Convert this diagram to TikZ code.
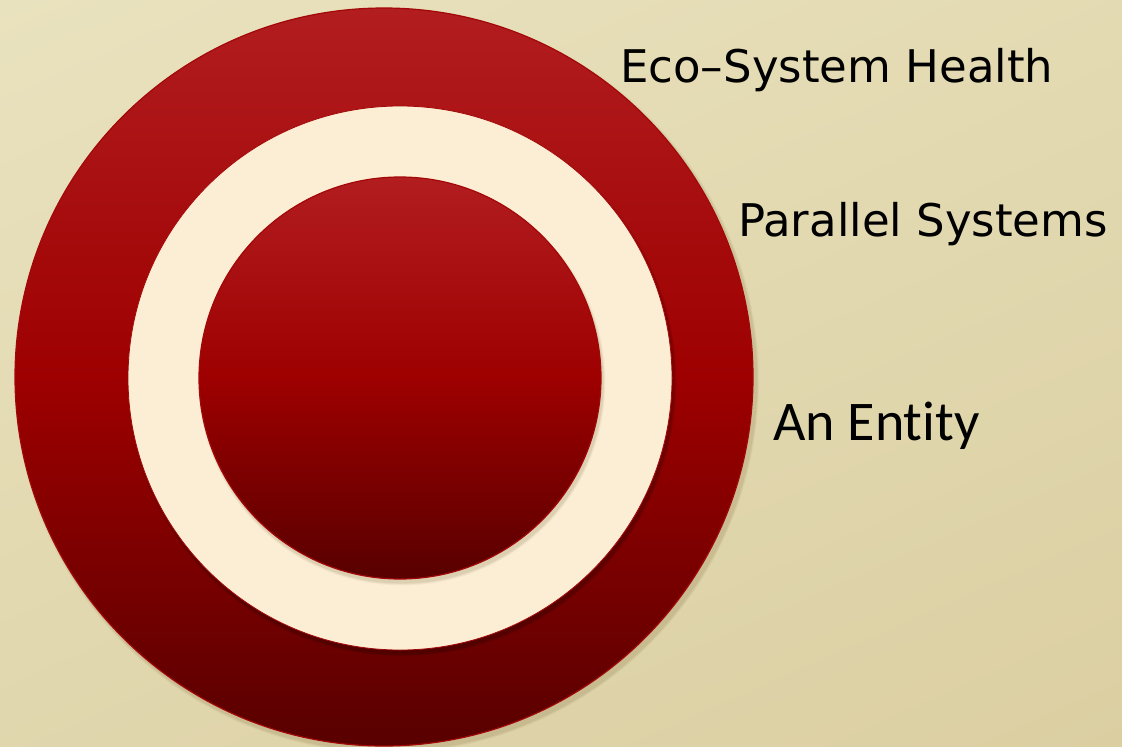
\documentclass[tikz,border=0pt]{standalone}
\usepackage{fontspec}
\setmainfont{DejaVu Sans}
\newfontfamily\calfont[Ligatures=NoCommon]{Carlito}
\usetikzlibrary{positioning,shadings}
\definecolor{bgtop}{HTML}{E9E2BE}
\definecolor{bgbot}{HTML}{DBCFA2}
\definecolor{ringtop}{HTML}{B21D20}
\definecolor{ringmid}{HTML}{9E0000}
\definecolor{ringbot}{HTML}{580000}
\definecolor{ringedge}{HTML}{A30808}
\definecolor{cream}{HTML}{FBEED5}
\definecolor{shadowc}{HTML}{6E5A2A}

\begin{document}
\begin{tikzpicture}[x=1pt, y=-1pt,
  disc/.style={circle, draw=ringedge, line width=1.2pt, inner sep=0pt, outer sep=0pt,
    top color=ringtop, bottom color=ringbot, middle color=ringmid},
  gap/.style={circle, draw=ringedge, line width=0.8pt, inner sep=0pt, outer sep=0pt, fill=cream},
  lab/.style={font=\fontsize{45}{50}\selectfont, text=black, inner sep=0pt}]
\shade[upper left=bgtop, lower right=bgbot, upper right=bgtop!60!bgbot, lower left=bgtop!40!bgbot]
  (0,0) rectangle (1122,747);
\useasboundingbox (0,0) rectangle (1122,747);
% soft shadows
\foreach \s/\o in {10/0.05,7/0.07,4/0.08} {
  \fill[shadowc, opacity=\o] (387,381) circle (369+\s*0.3);
}
\node[disc, minimum size=738pt] (outer) at (384,377) {};
\foreach \s/\o in {8/0.06,5/0.08,2/0.10} {
  \fill[black, opacity=\o] (402,382) circle (272+\s*0.3);
}
\node[gap, minimum size=544pt] (middle) at (400,378) {};
\foreach \s/\o in {8/0.05,5/0.07,2/0.09} {
  \fill[shadowc, opacity=\o] (402,382) circle (201+\s*0.3);
}
\node[disc, minimum size=402pt] (inner) at (400,378) {};
\node[lab, anchor=base west] (ecosys) at (620,82) {Eco–System Health};
\node[lab, anchor=base west] (parsys) at (738,236) {Parallel Systems};
\node[lab, anchor=base west, font=\calfont\fontsize{56}{60}\selectfont] (entity) at (773,440) {An Entity};
\end{tikzpicture}
\end{document}
